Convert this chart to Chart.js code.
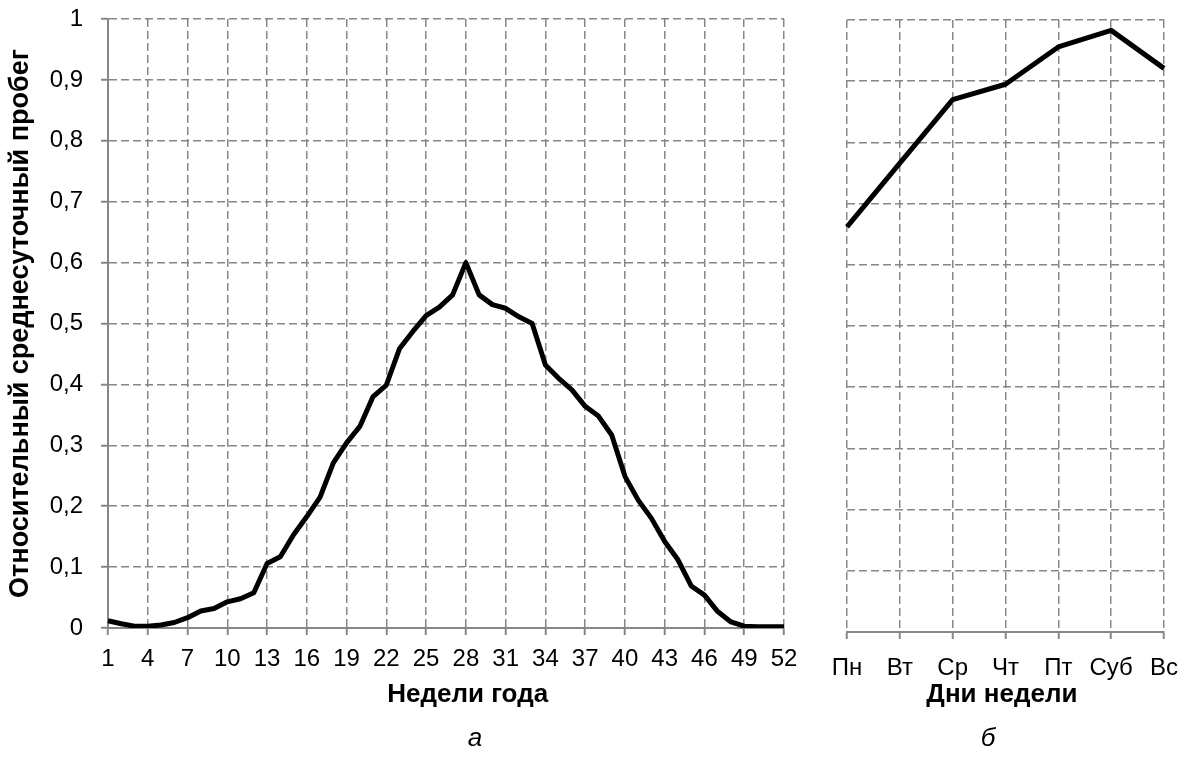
<!DOCTYPE html>
<html>
<head>
<meta charset="utf-8">
<script src="https://cdn.jsdelivr.net/npm/chart.js@4.4.1/dist/chart.umd.min.js"></script>
<style>
  body { margin: 0; background: #fff; width: 1188px; height: 776px; overflow: hidden; position: relative; font-family: "Liberation Sans", Arial, sans-serif; }
  canvas { position: absolute; top: 0; }
  #weeks-chart { left: 0; }
  #days-chart { left: 800px; }
  .panel-label { position: absolute; top: 722px; font-style: italic; font-size: 26px; color: #000; transform: translateX(-50%); }
</style>
</head>
<body>
<canvas id="weeks-chart" width="800" height="776"></canvas>
<canvas id="days-chart" width="388" height="776"></canvas>
<div class="panel-label" style="left:475px">а</div>
<div class="panel-label" style="left:988px">б</div>
<script>
// weeks of the year (panel а)
var weeks = ['1','2','3','4','5','6','7','8','9','10','11','12','13','14','15','16','17','18','19','20',
  '21','22','23','24','25','26','27','28','29','30','31','32','33','34','35','36','37','38','39','40',
  '41','42','43','44','45','46','47','48','49','50','51','52'];
var weekMileage = [0.012,0.007,0.003,0.003,0.005,0.009,0.017,0.028,0.032,0.043,0.048,0.058,0.106,0.117,0.153,0.183,0.215,0.271,0.304,0.331,
  0.380,0.399,0.459,0.487,0.513,0.527,0.547,0.600,0.547,0.531,0.525,0.511,0.500,0.432,0.410,0.391,0.364,0.348,0.317,0.249,
  0.210,0.180,0.142,0.112,0.069,0.054,0.027,0.010,0.003,0.002,0.002,0.002];

// days of the week (panel б)
var days = ['Пн','Вт','Ср','Чт','Пт','Суб','Вс'];
var dayMileage = [0.662,0.766,0.870,0.895,0.956,0.983,0.921];

var yTickLabels = ['0','0,1','0,2','0,3','0,4','0,5','0,6','0,7','0,8','0,9','1'];

var gridGray = '#878787';
var fontName = "'Liberation Sans', Arial, sans-serif";
var tickFont = { family: fontName, size: 24 };
var titleFont = { family: fontName, size: 26, weight: 'bold' };

function everyThird(c) {
  return c.index % 3 === 0 ? gridGray : 'rgba(0,0,0,0)';
}

// pin the x axis box so the plot edges stay where they are in the original
function fixXAxis(h) {
  return function (s) { s.height = h; s.paddingLeft = 0; s.paddingRight = 0; };
}

new Chart(document.getElementById('weeks-chart'), {
  type: 'line',
  data: {
    labels: weeks,
    datasets: [{
      data: weekMileage,
      borderColor: '#000',
      borderWidth: 5,
      pointRadius: 0,
      tension: 0,
      borderJoinStyle: 'round'
    }]
  },
  options: {
    responsive: false,
    animation: false,
    layout: { padding: { left: 0, right: 16, top: 19, bottom: 0 } },
    plugins: { legend: { display: false }, tooltip: { enabled: false } },
    scales: {
      x: {
        offset: false,
        afterFit: fixXAxis(148),
        grid: { color: everyThird, tickColor: everyThird, lineWidth: 1.5, tickLength: 7, tickWidth: 2 },
        border: { display: true, color: gridGray, width: 2, dash: [8, 4] },
        ticks: {
          autoSkip: false, maxRotation: 0, minRotation: 0, padding: 10, color: '#000', font: tickFont,
          callback: function (v, i) { return i % 3 === 0 ? weeks[i] : ''; }
        },
        // title sits a little right of the plot centre in the original
        title: { display: true, text: '\u00A0\u00A0\u00A0\u00A0\u00A0\u00A0Недели года', color: '#000', font: titleFont, padding: { top: 0, bottom: 66 } }
      },
      y: {
        min: 0, max: 1,
        afterFit: function (s) { s.width = 108; s.paddingTop = 0; s.paddingBottom = 0; },
        grid: { color: gridGray, tickColor: gridGray, lineWidth: 1.5, tickLength: 7, tickWidth: 2 },
        border: { display: true, color: gridGray, width: 2, dash: [8, 4] },
        ticks: {
          stepSize: 0.1, padding: 18, color: '#000', font: tickFont,
          callback: function (v, i) { return yTickLabels[i]; }
        },
        title: { display: true, text: 'Относительный среднесуточный пробег', color: '#000', font: { family: fontName, size: 27, weight: 'bold' }, padding: { top: 4, bottom: 0 } }
      }
    }
  }
});

new Chart(document.getElementById('days-chart'), {
  type: 'line',
  data: {
    labels: days,
    datasets: [{
      data: dayMileage,
      borderColor: '#000',
      borderWidth: 5,
      pointRadius: 0,
      tension: 0,
      borderJoinStyle: 'round'
    }]
  },
  options: {
    responsive: false,
    animation: false,
    layout: { padding: { left: 0, right: 24, top: 20, bottom: 0 } },
    plugins: { legend: { display: false }, tooltip: { enabled: false } },
    scales: {
      x: {
        offset: false,
        afterFit: fixXAxis(144),
        grid: { color: gridGray, tickColor: gridGray, lineWidth: 1.5, tickLength: 7, tickWidth: 2 },
        border: { display: true, color: gridGray, width: 2, dash: [8, 4] },
        ticks: { autoSkip: false, maxRotation: 0, minRotation: 0, padding: 15, color: '#000', font: tickFont },
        title: { display: true, text: 'Дни недели\u00A0', color: '#000', font: titleFont, padding: { top: 0, bottom: 66 } }
      },
      y: {
        min: 0, max: 1,
        afterFit: function (s) { s.width = 47; s.paddingTop = 0; s.paddingBottom = 0; },
        grid: { color: gridGray, lineWidth: 1.5, drawTicks: false },
        border: { display: false, dash: [8, 4] },
        ticks: { stepSize: 0.1, display: false }
      }
    }
  }
});
</script>
</body>
</html>
